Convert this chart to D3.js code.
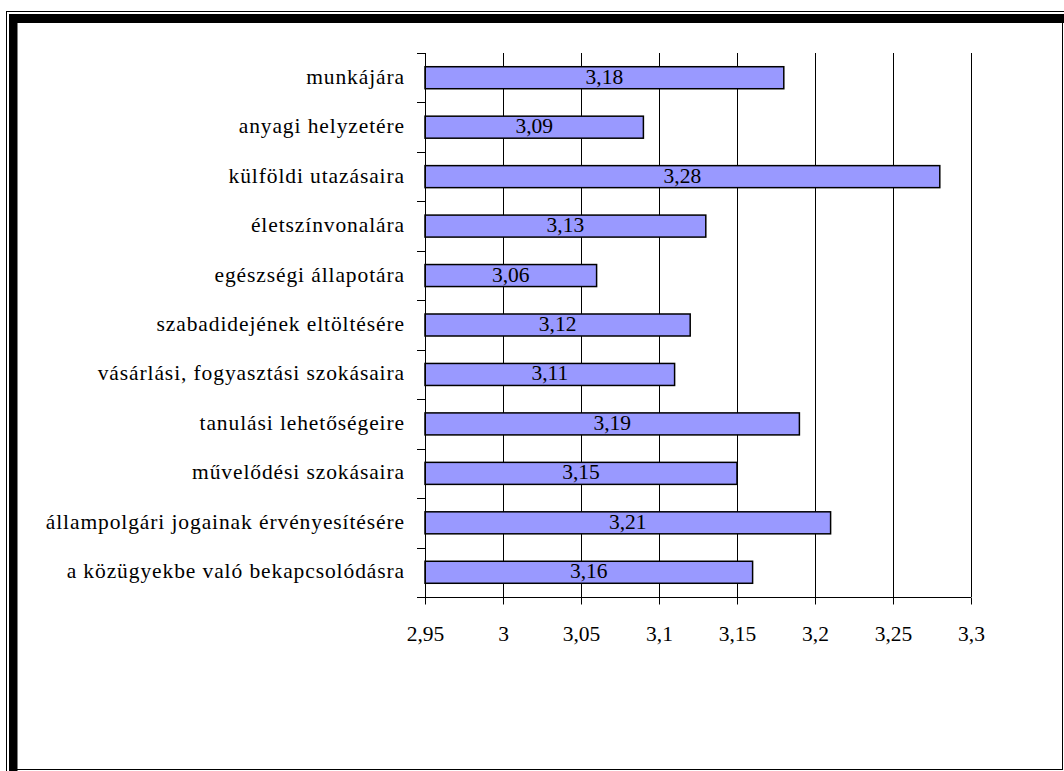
<!DOCTYPE html>
<html><head><meta charset="utf-8">
<script src="https://cdn.jsdelivr.net/npm/d3@7"></script>
<style>html,body{margin:0;padding:0;background:#fff;}svg{display:block;}</style>
</head><body>
<script>
const categories = ["munkájára","anyagi helyzetére","külföldi utazásaira","életszínvonalára","egészségi állapotára","szabadidejének eltöltésére","vásárlási, fogyasztási szokásaira","tanulási lehetőségeire","művelődési szokásaira","állampolgári jogainak érvényesítésére","a közügyekbe való bekapcsolódásra"];
const values = [3.18,3.09,3.28,3.13,3.06,3.12,3.11,3.19,3.15,3.21,3.16];
const xTicks = [2.95,3,3.05,3.1,3.15,3.2,3.25,3.3];

(function(){
const W=1064,H=771;
const svg=d3.select("body").append("svg").attr("width",W).attr("height",H);
const font="'Liberation Serif','Times New Roman',serif";
// frame
svg.append("rect").attr("x",6).attr("y",11).attr("width",1).attr("height",H-11).attr("fill","#000");
svg.append("rect").attr("x",6).attr("y",11).attr("width",W-6).attr("height",1).attr("fill","#000");
svg.append("rect").attr("x",9).attr("y",14).attr("width",8.5).attr("height",H-14).attr("fill","#000");
svg.append("rect").attr("x",9).attr("y",14).attr("width",W-9).attr("height",9).attr("fill","#000");
svg.append("rect").attr("x",1062).attr("y",23).attr("width",1).attr("height",747).attr("fill","#000");
svg.append("rect").attr("x",17).attr("y",769).attr("width",1046).attr("height",1).attr("fill","#000");

const pL=425,pR=971,pT=53,pB=597;
const x=d3.scaleLinear().domain([2.95,3.3]).range([pL,pR]);
const y=d3.scaleBand().domain(categories).range([pT,pB]).paddingInner(0.555).paddingOuter(0.2775);

// gridlines
svg.append("g").selectAll("line").data(xTicks.slice(1)).join("line")
 .attr("x1",d=>Math.round(x(d))+0.5).attr("x2",d=>Math.round(x(d))+0.5)
 .attr("y1",pT).attr("y2",pB).attr("stroke","#000").attr("stroke-width",1);

// bars
svg.append("g").selectAll("rect").data(values).join("rect")
 .attr("x",pL).attr("y",(d,i)=>y(categories[i]))
 .attr("width",d=>x(d)-pL).attr("height",y.bandwidth())
 .attr("fill","#9999ff").attr("stroke","#000").attr("stroke-width",1.5);

// x axis
const xAxis=d3.axisBottom(x).tickValues(xTicks).tickSize(7).tickPadding(21)
 .tickFormat(d=>d3.format("")(d).replace(".",","));
const gx=svg.append("g").attr("transform",`translate(0,${pB+0.5})`).call(xAxis);
gx.select(".domain").attr("stroke","#000").attr("d",`M${pL},0H${pR}`);
gx.selectAll(".tick line").attr("stroke","#000");
gx.selectAll("text").attr("font-family",font).attr("font-size","21.5px").attr("fill","#000");

// y axis line and ticks at band boundaries
const step=(pB-pT)/categories.length;
const g=svg.append("g");
g.append("line").attr("x1",pL+0.5).attr("x2",pL+0.5).attr("y1",pT).attr("y2",pB).attr("stroke","#000");
g.selectAll("line.yt").data(d3.range(categories.length+1)).join("line").attr("class","yt")
 .attr("x1",pL-8).attr("x2",pL).attr("y1",i=>Math.round(pT+i*step)+0.5).attr("y2",i=>Math.round(pT+i*step)+0.5).attr("stroke","#000");

// category labels
svg.append("g").selectAll("text").data(categories).join("text")
 .attr("x",405).attr("y",d=>y(d)+y.bandwidth()/2+6)
 .attr("text-anchor","end").attr("font-family",font).attr("font-size","21.5px")
 .attr("letter-spacing","0.9px").attr("fill","#000")
 .text(d=>d);

// value labels
svg.append("g").selectAll("text").data(values).join("text")
 .attr("x",d=>(pL+x(d))/2).attr("y",(d,i)=>y(categories[i])+y.bandwidth()/2+6)
 .attr("text-anchor","middle").attr("font-family",font).attr("font-size","21.5px").attr("fill","#000")
 .text(d=>d3.format(".2f")(d).replace(".",","));
})();
</script>
</body></html>
